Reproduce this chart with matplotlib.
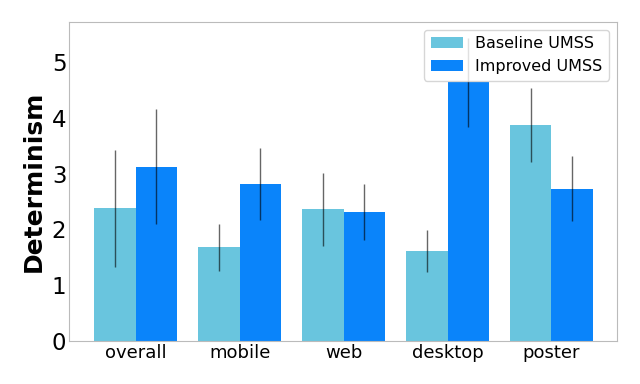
import numpy as np
import matplotlib
matplotlib.use("Agg")
from matplotlib import pyplot as plt

categories = ["overall", "mobile", "web", "desktop", "poster"]
baseline = [2.38, 1.68, 2.36, 1.61, 3.87]
baseline_err = [1.05, 0.42, 0.65, 0.38, 0.67]
improved = [3.12, 2.81, 2.31, 4.64, 2.73]
improved_err = [1.03, 0.65, 0.50, 0.80, 0.58]

x = np.arange(len(categories))
w = 0.4

fig, ax = plt.subplots(figsize=(6.4, 3.84), dpi=100)
fig.subplots_adjust(left=0.108, right=0.964, top=0.943, bottom=0.112)

ax.bar(x - w/2, baseline, w, yerr=baseline_err, color="#69c5de",
       error_kw=dict(ecolor="black", elinewidth=1, alpha=0.6), label="Baseline UMSS")
ax.bar(x + w/2, improved, w, yerr=improved_err, color="#0a84fa",
       error_kw=dict(ecolor="black", elinewidth=1, alpha=0.6), label="Improved UMSS")

ax.set_xticks(x)
ax.set_xticklabels(categories, fontsize=13)
ax.tick_params(axis="y", labelsize=16.5)
ax.tick_params(length=0, pad=2)
ax.set_xlim(-0.64, 4.63)
ax.set_ylim(0, 5.72)
ax.set_ylabel("Determinism", fontsize=18, fontweight="bold")
for s in ax.spines.values():
    s.set_color("#bbbbbb")
ax.legend(loc="upper right", fontsize=11.5, handlelength=2.0)

fig.savefig("out.png")
